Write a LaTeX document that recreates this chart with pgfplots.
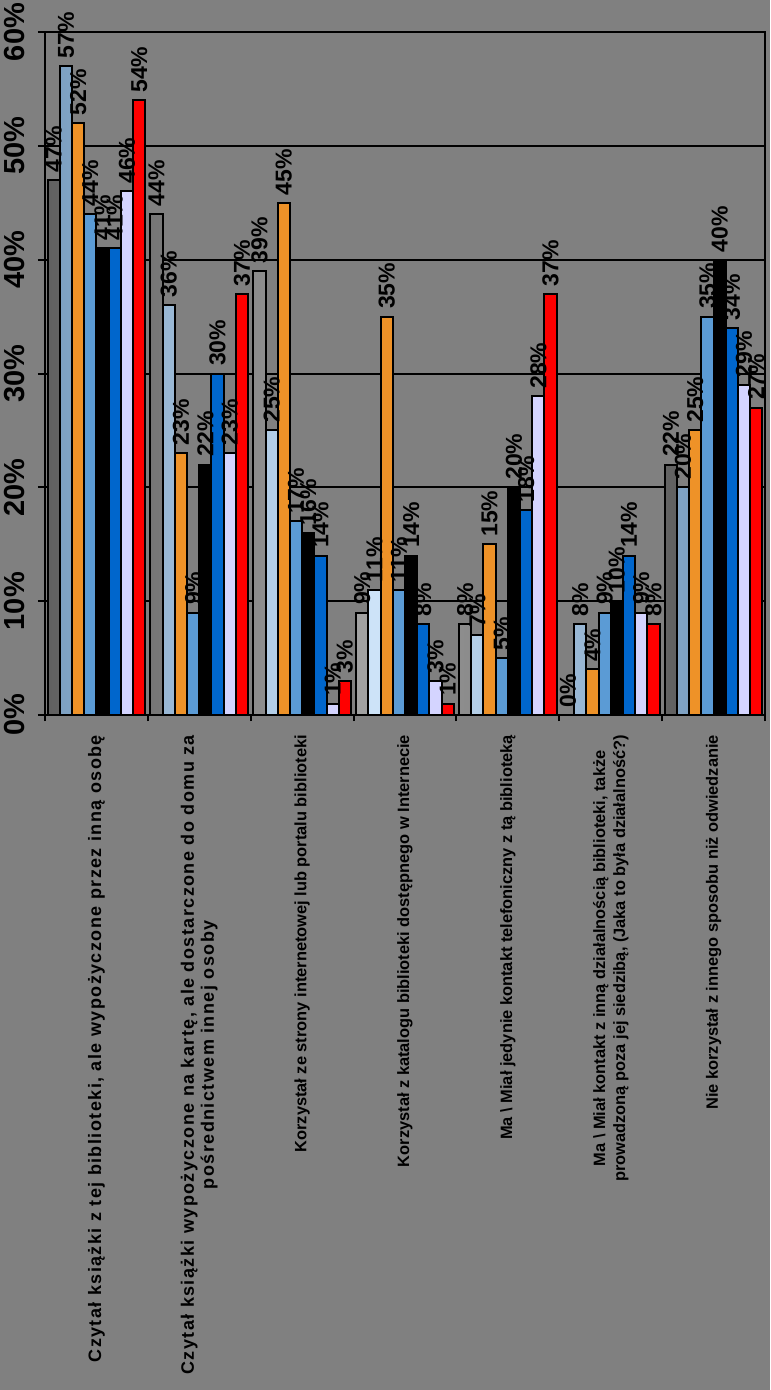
\documentclass[border=0pt]{standalone}
\usepackage{pgfplots}
\pgfplotsset{compat=1.18}
\usepackage{fontspec}
\setmainfont{Liberation Sans}

\definecolor{bg}{HTML}{808080}
\definecolor{cgray}{HTML}{8A8A8A}
\definecolor{clight}{HTML}{9CC8F2}
\definecolor{corange}{HTML}{EE9228}
\definecolor{csteel}{HTML}{5B9BD5}
\definecolor{cblue}{HTML}{0066CC}
\definecolor{clav}{HTML}{D4D4FF}
\definecolor{cred}{HTML}{FF0000}

\newcommand\catbig{\fontsize{9}{11}\selectfont\addfontfeature{LetterSpace=8}}

\begin{document}
\begin{tikzpicture}
\path[use as bounding box, fill=bg] (-22.5pt,-337.5pt) rectangle (362.5pt,357.5pt);
\begin{axis}[
  at={(0pt,0pt)}, anchor=south west,
  scale only axis, width=360pt, height=341.5pt,
  ybar=0pt, bar width=6.1pt,
  xmin=-0.5, xmax=6.5, ymin=0, ymax=60,
  ytick={0,10,...,60},
  yticklabel={\pgfmathprintnumber{\tick}\%},
  /pgf/number format/assume math mode=true,
  ymajorgrids,
  major grid style={black, line width=1pt},
  axis line style={black, line width=1pt},
  tick align=outside, tick pos=left,
  major tick length=3.5pt,
  every major y tick/.style={black, line width=1pt},
  every major x tick/.style={draw=none},
  minor xtick={-0.5,0.5,...,6.5},
  every minor x tick/.style={black, line width=1pt},
  minor tick length=3pt,
  yticklabel style={xshift=-3pt, rotate=90, anchor=south,
    font=\fontsize{14.5}{16}\selectfont\bfseries},
  xtick={0,...,6},
  xticklabels={
    {\catbig Czytał książki z tej biblioteki, ale wypożyczone przez inną osobę},
    {\catbig Czytał książki wypożyczone na kartę, ale dostarczone do domu za\\\catbig pośrednictwem innej osoby},
    {Korzystał ze strony internetowej lub portalu biblioteki},
    {Korzystał z katalogu biblioteki dostępnego w Internecie},
    {Ma \textbackslash{} Miał jedynie kontakt telefoniczny z tą biblioteką},
    {Ma \textbackslash{} Miał kontakt z inną działalnością biblioteki, także\\prowadzoną poza jej siedzibą, (Jaka to była działalność?)},
    {Nie korzystał z innego sposobu niż odwiedzanie}},
  xticklabel style={yshift=-3pt, rotate=90, anchor=east, align=center,
    font=\fontsize{8.2}{10}\selectfont\bfseries},
  nodes near coords={\pgfmathprintnumber{\pgfplotspointmeta}\%},
  every node near coord/.append style={rotate=90, anchor=west, black,
    font=\fontsize{11.5}{12}\selectfont\bfseries},
  every axis plot/.append style={draw=black, line width=1pt},
]
\addplot[left color=cgray!70!black, right color=cgray!70!black, middle color=cgray!80!white]
  coordinates {(0,47) (1,44) (2,39) (3,9) (4,8) (5,0) (6,22)};
\addplot[left color=clight!80!black, right color=clight!80!black, middle color=clight!50!white]
  coordinates {(0,57) (1,36) (2,25) (3,11) (4,7) (5,8) (6,20)};
\addplot[fill=corange]
  coordinates {(0,52) (1,23) (2,45) (3,35) (4,15) (5,4) (6,25)};
\addplot[fill=csteel]
  coordinates {(0,44) (1,9) (2,17) (3,11) (4,5) (5,9) (6,35)};
\addplot[fill=black]
  coordinates {(0,41) (1,22) (2,16) (3,14) (4,20) (5,10) (6,40)};
\addplot[fill=cblue]
  coordinates {(0,41) (1,30) (2,14) (3,8) (4,18) (5,14) (6,34)};
\addplot[fill=clav]
  coordinates {(0,46) (1,23) (2,1) (3,3) (4,28) (5,9) (6,29)};
\addplot[fill=cred]
  coordinates {(0,54) (1,37) (2,3) (3,1) (4,37) (5,8) (6,27)};
\end{axis}
\end{tikzpicture}
\end{document}
